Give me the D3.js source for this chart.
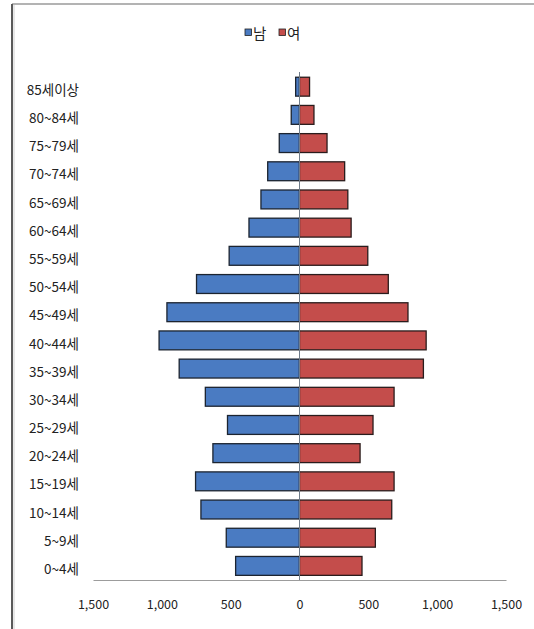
<!DOCTYPE html>
<html><head><meta charset="utf-8">
<script src="https://cdn.jsdelivr.net/npm/d3@7"></script>
<style>
html,body{margin:0;padding:0;background:#fff;}
svg{display:block;}
text{font-family:"Noto Sans CJK KR","Noto Sans",sans-serif;fill:#222;}
</style></head>
<body>
<svg id="chart" width="534" height="629"></svg>
<script>
const categories = ["85세이상","80~84세","75~79세","70~74세","65~69세","60~64세","55~59세","50~54세","45~49세","40~44세","35~39세","30~34세","25~29세","20~24세","15~19세","10~14세","5~9세","0~4세"];
const male   = [28, 60, 147, 231, 280, 367, 511, 748, 963, 1020, 874, 684, 523, 629, 755, 716, 532, 464];
const female = [73, 105, 200, 328, 351, 375, 496, 645, 788, 920, 900, 687, 534, 440, 687, 670, 551, 454];
const seriesNames = ["남","여"];
const tickValues = [-1500, -1000, -500, 0, 500, 1000, 1500];
const colors = {"남":"#4a7bc2", "여":"#c44d4b"};

const svg = d3.select("#chart");

// frame
svg.append("line").attr("x1",12).attr("x2",534).attr("y1",4).attr("y2",4).attr("stroke","#9a9a9a").attr("stroke-width",1.5);
svg.append("line").attr("x1",12).attr("x2",12).attr("y1",4).attr("y2",629).attr("stroke","#5a5a5a").attr("stroke-width",2);
svg.append("line").attr("x1",14).attr("x2",14).attr("y1",5).attr("y2",629).attr("stroke","#d0d0d0").attr("stroke-width",1);

const x = d3.scaleLinear().domain([-1500,1500]).range([93,506]);
const y = d3.scaleBand().domain(categories).range([72.6,580]).paddingInner(0.33).paddingOuter(0.165);

// bars
const g = svg.append("g");
g.selectAll("rect.m").data(categories).join("rect").attr("class","m")
  .attr("x",(d,i)=>x(-male[i])).attr("width",(d,i)=>x(0)-x(-male[i]))
  .attr("y",d=>y(d)).attr("height",y.bandwidth())
  .attr("fill",colors["남"]).attr("stroke","#1c2430").attr("stroke-width",1.3);
g.selectAll("rect.f").data(categories).join("rect").attr("class","f")
  .attr("x",x(0)).attr("width",(d,i)=>x(female[i])-x(0))
  .attr("y",d=>y(d)).attr("height",y.bandwidth())
  .attr("fill",colors["여"]).attr("stroke","#2a1c1c").attr("stroke-width",1.3);

// zero line
svg.append("line").attr("x1",x(0)).attr("x2",x(0)).attr("y1",72).attr("y2",580)
  .attr("stroke","#6f7c8a").attr("stroke-width",1);

// x axis
const xa = svg.append("g").attr("transform","translate(0,580)")
  .call(d3.axisBottom(x).tickValues(tickValues).tickSize(0).tickPadding(20)
    .tickFormat(d=>d3.format(",")(Math.abs(d))));
xa.select(".domain").attr("stroke","#9c9c9c").attr("stroke-width",1.2);
xa.selectAll("text").attr("font-size",12.5).attr("fill","#222")
  .style("font-family",'"Noto Sans CJK KR","Noto Sans",sans-serif');

// y labels
const ya = svg.append("g").attr("transform","translate(79,0)")
  .call(d3.axisLeft(y).tickSize(0).tickPadding(0));
ya.select(".domain").remove();
ya.selectAll("text").attr("font-size",13.5).attr("fill","#222").attr("dy","0.6em")
  .style("font-family",'"Noto Sans CJK KR","Noto Sans",sans-serif');

// legend
const lg = svg.append("g");
const lx = [245, 279];
seriesNames.forEach((s,i)=>{
  lg.append("rect").attr("x",lx[i]).attr("y",29).attr("width",6.5).attr("height",6.5)
    .attr("fill",colors[s]).attr("stroke","#222").attr("stroke-width",0.8);
  lg.append("text").attr("x",lx[i]+8).attr("y",38.5).attr("font-size",14.5).text(s);
});
</script>
</body></html>
